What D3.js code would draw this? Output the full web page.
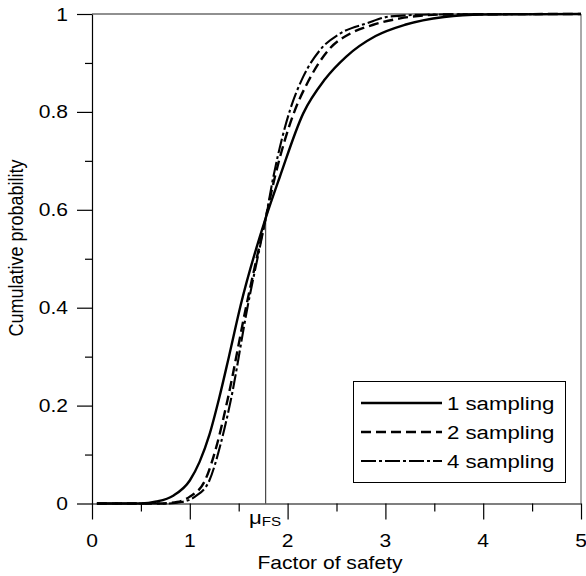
<!DOCTYPE html>
<html>
<head>
<meta charset="utf-8">
<script src="https://cdn.jsdelivr.net/npm/d3@7"></script>
<style>
  body { margin: 0; background: #fff; }
  svg { display: block; font-family: "Liberation Sans", Arial, sans-serif; }
</style>
</head>
<body>
<div id="chart"></div>
<script>
// CDF of factor of safety for 1, 2 and 4 samplings
const fs1 = [0.05, 0.5, 0.66, 0.83, 1.0, 1.1, 1.2, 1.3, 1.4, 1.52, 1.776, 1.92, 2.16, 2.38, 2.6, 2.9, 3.2, 3.6, 4.0, 5.0];
const cp1 = [0, 0, 0.004, 0.016, 0.047, 0.085, 0.14, 0.215, 0.3, 0.405, 0.583, 0.667, 0.797, 0.866, 0.913, 0.955, 0.978, 0.994, 0.999, 1];

const fs2 = [0.05, 0.7, 0.87, 1.0, 1.155, 1.28, 1.384, 1.575, 1.776, 1.87, 2.076, 2.21, 2.434, 2.64, 2.876, 3.15, 3.6, 5.0];
const cp2 = [0, 0, 0.003, 0.014, 0.047, 0.122, 0.21, 0.401, 0.583, 0.667, 0.804, 0.862, 0.93, 0.96, 0.978, 0.991, 0.999, 1];

const fs4 = [0.05, 0.75, 0.917, 1.053, 1.2, 1.316, 1.418, 1.59, 1.776, 1.854, 2.025, 2.16, 2.33, 2.536, 2.81, 3.05, 3.5, 5.0];
const cp4 = [0, 0, 0.003, 0.014, 0.047, 0.122, 0.21, 0.401, 0.583, 0.667, 0.804, 0.872, 0.926, 0.96, 0.981, 0.995, 0.999, 1];

const seriesLabels = ["1 sampling", "2 sampling", "4 sampling"];
const xTicks = [0, 1, 2, 3, 4, 5];
const xMinor = [0.5, 1.5, 2.5, 3.5, 4.5];
const yTicks = [0, 0.2, 0.4, 0.6, 0.8, 1];
const yTickLabels = ["0", "0.2", "0.4", "0.6", "0.8", "1"];
const yMinor = [0.1, 0.3, 0.5, 0.7, 0.9];
const MU_FS = 1.776;     // mean factor of safety
const MU_CP = 0.583;     // where the curves cross

const SERIES = [
  { label: seriesLabels[0], x: fs1, y: cp1, dash: null, width: 2.4 },
  { label: seriesLabels[1], x: fs2, y: cp2, dash: "10,5", width: 2.4 },
  { label: seriesLabels[2], x: fs4, y: cp4, dash: "15,3,3,3", width: 2.1 },
];

// the scanned original is stretched horizontally; mimic it on the text
const SX = 1.17;

const width = 586, height = 576;
const svg = d3.select("#chart").append("svg")
  .attr("width", width).attr("height", height);

const x = d3.scaleLinear().domain([0, 5]).range([92, 581]);
const y = d3.scaleLinear().domain([0, 1]).range([503.5, 14]);

function label(text, px, py, anchor, size) {
  return svg.append("text")
    .attr("transform", `translate(${px},${py}) scale(${SX},1)`)
    .attr("text-anchor", anchor)
    .style("font-size", `${size}px`)
    .attr("fill", "#000")
    .text(text);
}

// ---- frame ----
svg.append("line")
  .attr("x1", x(0)).attr("x2", x(5)).attr("y1", y(1)).attr("y2", y(1))
  .attr("stroke", "#222").attr("stroke-width", 1.2);
svg.append("line")
  .attr("x1", x(5)).attr("x2", x(5)).attr("y1", y(1)).attr("y2", y(0))
  .attr("stroke", "#555").attr("stroke-width", 1);

// ---- axes ----
const xAxis = svg.append("g").attr("transform", `translate(0,${y(0)})`);
xAxis.call(d3.axisBottom(x).tickValues(xTicks).tickSize(16).tickSizeOuter(0).tickFormat(""));
xAxis.append("g").call(d3.axisBottom(x).tickValues(xMinor).tickSize(8).tickFormat(""))
  .select(".domain").remove();

const yAxis = svg.append("g").attr("transform", `translate(${x(0)},0)`);
yAxis.call(d3.axisLeft(y).tickValues(yTicks).tickSize(15).tickSizeOuter(0).tickFormat(""));
yAxis.append("g").call(d3.axisLeft(y).tickValues(yMinor).tickSize(7).tickFormat(""))
  .select(".domain").remove();

svg.selectAll(".domain, .tick line").attr("stroke", "#000").attr("stroke-width", 1.2);

xTicks.forEach((t) => label(String(t), x(t), 547, "middle", 18));
yTicks.forEach((t, i) => label(yTickLabels[i], 68, y(t) + 6.5, "end", 18));

// axis titles
label("Factor of safety", 330, 569, "middle", 18);
svg.append("text")
  .attr("transform", `translate(23,248) scale(${SX},1) rotate(-90)`)
  .attr("text-anchor", "middle")
  .style("font-size", "18px")
  .text("Cumulative probability");

// ---- mean marker ----
svg.append("line")
  .attr("x1", x(MU_FS)).attr("x2", x(MU_FS))
  .attr("y1", y(0)).attr("y2", y(MU_CP))
  .attr("stroke", "#222").attr("stroke-width", 1);
const mu = label("", 249, 524, "start", 19);
mu.append("tspan").text("μ");
mu.append("tspan").attr("dy", 2).style("font-size", "13px").text("FS");

// ---- curves ----
const line = d3.line()
  .x((d) => x(d[0]))
  .y((d) => y(d[1]))
  .curve(d3.curveMonotoneX);

SERIES.forEach((s) => {
  svg.append("path")
    .datum(s.x.map((v, i) => [v, s.y[i]]))
    .attr("d", line)
    .attr("fill", "none")
    .attr("stroke", "#000")
    .attr("stroke-width", s.width)
    .attr("stroke-dasharray", s.dash);
});

// ---- legend ----
const legend = svg.append("g");
legend.append("rect")
  .attr("x", 353.5).attr("y", 381.5).attr("width", 212).attr("height", 101)
  .attr("fill", "#fff").attr("stroke", "#000").attr("stroke-width", 1);
SERIES.forEach((s, i) => {
  const ly = 403 + i * 29;
  legend.append("line")
    .attr("x1", 361).attr("x2", 442).attr("y1", ly).attr("y2", ly)
    .attr("stroke", "#000").attr("stroke-width", s.width)
    .attr("stroke-dasharray", s.dash);
  label(s.label, 447, ly + 7, "start", 19);
});
</script>
</body>
</html>
